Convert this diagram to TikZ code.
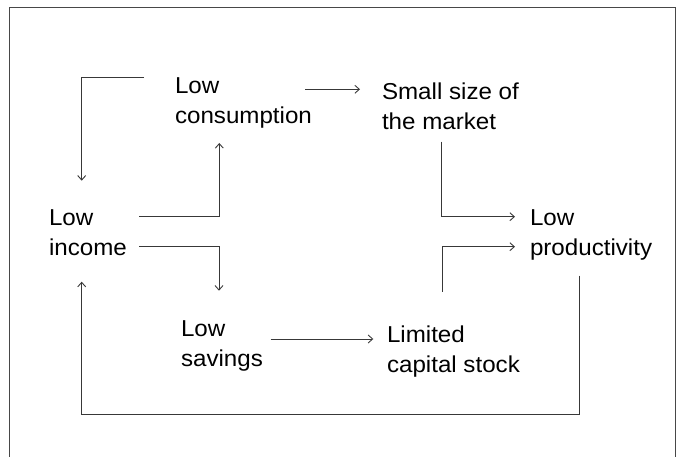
\documentclass[tikz,border=0pt]{standalone}
\usepackage{fontspec}
\setmainfont[FakeStretch=1.05]{Liberation Sans}
\usetikzlibrary{arrows.meta,calc}
\begin{document}
\begin{tikzpicture}[x=1pt,y=-1pt,
  lbl/.style={anchor=north west,inner sep=0pt,outer sep=0pt,align=left,
    font=\fontsize{23}{29.5}\selectfont,text=black},
  conn/.style={draw=black!78,line width=0.9pt,line join=miter,
    -{Straight Barb[length=4.5pt,width=8pt,line width=0.9pt]}},
  frame/.style={draw=black!72,line width=1.4pt}]
\useasboundingbox (0,0) rectangle (678,457);
\draw[frame] (9.7,457) -- (9.7,7.5) -- (675.7,7.5) -- (675.7,457);

\node[lbl] (inc)  at (49,210)  {Low\\income};
\node[lbl] (cons) at (175,78)  {Low\\consumption};
\node[lbl] (mkt)  at (382,83)  {Small size of\\the market};
\node[lbl] (prod) at (530,210) {Low\\productivity};
\node[lbl] (sav)  at (181,321) {Low\\savings};
\node[lbl] (cap)  at (387,326) {Limited\\capital stock};
\coordinate (prodout) at ($(prod.north west)+(49.3,65.7)$);
\coordinate (incin)   at ($(inc.north west)+(32.7,71.7)$);
\coordinate (bot) at (579.3,414);

% consumption -> income (top-left bracket)
\draw[conn] ($(cons.north west)+(-31,-0.7)$) -| ($(inc.north west)+(32.7,-29.3)$);
% consumption -> market
\draw[conn] ($(cons.north west)+(130,11.3)$) -- ($(mkt.north west)+(-22,6.3)$);
% market -> productivity
\draw[conn] ($(mkt.north west)+(59.7,58.7)$) |- ($(prod.north west)+(-15,6.7)$);
% capital -> productivity
\draw[conn] ($(cap.north west)+(55,-34.3)$) |- ($(prod.north west)+(-15,36.7)$);
% productivity -> income (bottom loop)
\draw[conn] (prodout) -- (bot) -| (incin);
% income -> consumption
\draw[conn] ($(inc.north west)+(90,6.7)$) -| ($(cons.north west)+(44.3,65)$);
% income -> savings
\draw[conn] ($(inc.north west)+(90,36)$) -| ($(sav.north west)+(38,-30.3)$);
% savings -> capital
\draw[conn] ($(sav.north west)+(89.7,18)$) -- ($(cap.north west)+(-13.7,13)$);
\end{tikzpicture}
\end{document}
